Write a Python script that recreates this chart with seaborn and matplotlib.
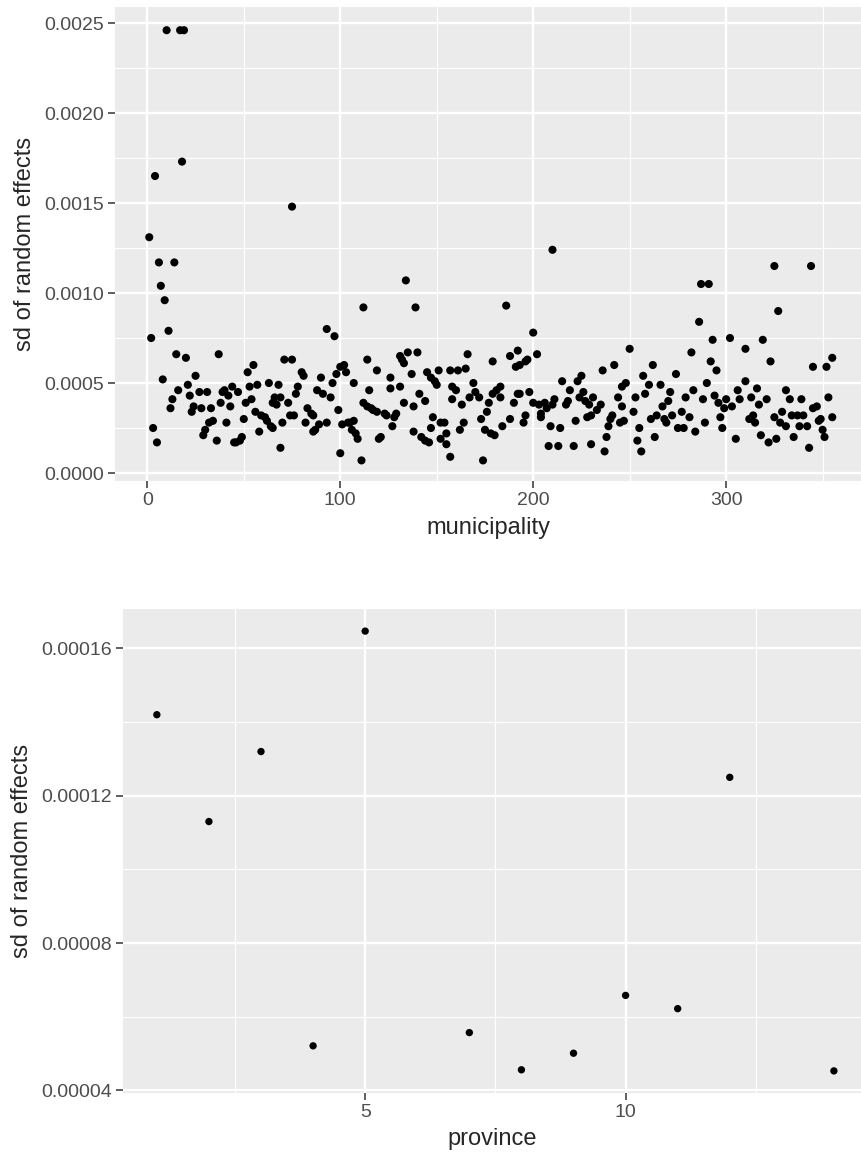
import matplotlib
matplotlib.use("Agg")
import matplotlib.pyplot as plt
import seaborn as sns
import pandas as pd
from matplotlib.ticker import FixedLocator

# ---------------- data ----------------
municipality = [
    1, 2, 3, 4, 5, 6, 7, 8, 9, 10, 11, 12, 13, 14, 15, 16, 17, 18, 19, 20,
    21, 22, 23, 24, 25, 27, 28, 29, 30, 31, 32, 33, 34, 36, 37, 38, 39, 40,
    41, 42, 43, 44, 45, 46, 47, 48, 49, 50, 51, 52, 53, 54, 55, 56, 57, 58,
    59, 61, 62, 63, 64, 65,
    65, 66, 67, 68, 69, 70, 69, 71, 73, 74, 75, 75, 76, 77, 78, 80, 81, 82,
    83, 85, 86, 86, 87, 88, 89, 90, 91, 93, 93, 95, 96, 97, 98, 99, 100, 100,
    101, 102, 103, 104, 105, 106, 107, 107, 108, 109, 111, 112, 112, 114, 114,
    115, 116, 117, 119, 119, 120, 121, 123, 124, 126, 126, 127, 128, 129, 131,
    131, 132, 133, 133, 134, 135, 137, 138, 138, 139, 140, 141, 142, 144, 144,
    145, 146, 147, 147, 148, 149, 150, 151, 152, 152, 154, 155, 155, 157, 157,
    158, 158, 160, 161, 162, 163, 164, 165, 166, 167,
    169, 170, 172, 173, 174, 175, 176, 177, 178, 179, 179, 180, 181, 183, 183,
    184, 186, 188, 188, 190, 191, 192, 192,
    193, 193, 195, 196, 196, 197, 198, 200, 200, 202, 203, 204, 204, 206, 207,
    208, 209, 210, 210, 211, 213, 214, 215, 217, 218, 219, 221, 222, 223, 224,
    225, 226, 227, 228, 229, 230, 230, 231, 233, 235, 236, 237, 238, 239, 240,
    241, 242, 244, 245, 246, 246, 247, 248, 250, 252, 253, 254, 255, 256, 257,
    258, 260, 261, 262, 263, 264, 266, 267, 268, 269, 270, 271, 272, 274, 275,
    277, 278, 279, 281, 282, 283, 284, 286, 287, 288, 289, 290, 291, 292, 293,
    294, 295, 296, 297, 298, 299, 300, 302, 303, 305, 306, 307, 310, 310, 312,
    313, 314, 315, 316, 317, 318, 319, 321, 322, 323, 325, 325, 326, 327, 328,
    329, 331, 331, 333, 334, 335, 337, 338, 339, 340, 342, 343, 344, 345, 345,
    347, 348, 349, 350, 351, 352, 353, 355, 355,
]
sd_municipality = [
    0.00131, 0.00075, 0.00025, 0.00165, 0.00017, 0.00117, 0.00104, 0.00052, 0.00096, 0.00246,
    0.00079, 0.00036, 0.00041, 0.00117, 0.00066, 0.00046, 0.00246, 0.00173, 0.00246, 0.00064,
    0.00049, 0.00043, 0.00034, 0.00037, 0.00054, 0.00045, 0.00036, 0.00021, 0.00024, 0.00045,
    0.00028, 0.00036, 0.00029, 0.00018, 0.00066, 0.00039, 0.00045, 0.00046,
    0.00028, 0.00043, 0.00037, 0.00048, 0.00017, 0.00017, 0.00045, 0.00018, 0.00020, 0.00030,
    0.00039, 0.00056, 0.00048, 0.00041, 0.00060, 0.00034, 0.00049, 0.00023,
    0.00032, 0.00031, 0.00029, 0.00050, 0.00026, 0.00039,
    0.00025, 0.00042, 0.00038, 0.00049, 0.00042, 0.00028, 0.00014, 0.00063, 0.00039, 0.00032,
    0.00063, 0.00148, 0.00032, 0.00044, 0.00048, 0.00056, 0.00054, 0.00028,
    0.00036, 0.00033, 0.00032, 0.00023, 0.00024, 0.00046, 0.00027, 0.00053, 0.00044, 0.00080,
    0.00028, 0.00042, 0.00050, 0.00076, 0.00055, 0.00035, 0.00059, 0.00011,
    0.00027, 0.00060, 0.00056, 0.00028, 0.00028, 0.00024, 0.00029, 0.00050, 0.00022, 0.00019,
    0.00007, 0.00092, 0.00039, 0.00037, 0.00063,
    0.00046, 0.00036, 0.00035, 0.00034, 0.00057, 0.00019, 0.00020, 0.00033, 0.00032, 0.00047,
    0.00053, 0.00026, 0.00031, 0.00033, 0.00065,
    0.00048, 0.00063, 0.00061, 0.00039, 0.00107, 0.00067, 0.00055, 0.00023, 0.00037, 0.00092,
    0.00067, 0.00044, 0.00020, 0.00040, 0.00018,
    0.00056, 0.00017, 0.00053, 0.00025, 0.00031, 0.00051, 0.00049, 0.00057, 0.00028, 0.00019,
    0.00028, 0.00016, 0.00022, 0.00009, 0.00057,
    0.00048, 0.00041, 0.00046, 0.00057, 0.00024, 0.00038, 0.00028, 0.00058, 0.00066, 0.00042,
    0.00050, 0.00045, 0.00042, 0.00030, 0.00007, 0.00024, 0.00034, 0.00039, 0.00022, 0.00044,
    0.00062, 0.00021, 0.00046, 0.00048, 0.00042,
    0.00026, 0.00093, 0.00030, 0.00065, 0.00039, 0.00059, 0.00068, 0.00044,
    0.00060, 0.00044, 0.00028, 0.00062, 0.00032, 0.00063, 0.00045, 0.00078, 0.00039, 0.00066,
    0.00038, 0.00033, 0.00031, 0.00039, 0.00036,
    0.00015, 0.00026, 0.00124, 0.00038, 0.00041, 0.00015, 0.00025, 0.00051, 0.00038, 0.00040,
    0.00046, 0.00015, 0.00029, 0.00051, 0.00042,
    0.00054, 0.00045, 0.00040, 0.00031, 0.00038, 0.00016, 0.00032, 0.00042, 0.00035, 0.00038,
    0.00057, 0.00012, 0.00020, 0.00026, 0.00030,
    0.00032, 0.00060, 0.00042, 0.00028, 0.00037, 0.00048, 0.00029, 0.00050, 0.00069, 0.00034,
    0.00042, 0.00018, 0.00025, 0.00012, 0.00054,
    0.00044, 0.00049, 0.00030, 0.00060, 0.00020, 0.00032, 0.00049, 0.00037, 0.00030, 0.00028,
    0.00040, 0.00045, 0.00032, 0.00055, 0.00025,
    0.00034, 0.00025, 0.00042, 0.00031, 0.00067, 0.00046, 0.00023, 0.00084, 0.00105, 0.00041,
    0.00028, 0.00050, 0.00105, 0.00062, 0.00074,
    0.00043, 0.00057, 0.00039, 0.00031, 0.00025, 0.00036, 0.00041, 0.00075, 0.00037, 0.00019,
    0.00046, 0.00041, 0.00051, 0.00069, 0.00030,
    0.00042, 0.00032, 0.00028, 0.00047, 0.00038, 0.00021, 0.00074, 0.00041, 0.00017, 0.00062,
    0.00115, 0.00031, 0.00019, 0.00090, 0.00028,
    0.00034, 0.00046, 0.00026, 0.00041, 0.00032, 0.00020, 0.00032, 0.00026, 0.00041, 0.00032,
    0.00026, 0.00014, 0.00115, 0.00036, 0.00059,
    0.00037, 0.00029, 0.00030, 0.00024, 0.00020, 0.00059, 0.00042, 0.00064, 0.00031,
]

province = [1, 2, 3, 4, 5, 7, 8, 9, 10, 11, 12, 14]
sd_province = [0.000142, 0.000113, 0.000132, 0.0000521, 0.0001647, 0.0000557,
               0.0000456, 0.0000501, 0.0000658, 0.0000622, 0.000125, 0.0000453]

top_xticks = [0, 100, 200, 300]
top_xminor = [50, 150, 250, 350]
top_yticks = [0.0, 0.0005, 0.0010, 0.0015, 0.0020, 0.0025]
top_yminor = [0.00025, 0.00075, 0.00125, 0.00175, 0.00225]
bot_xticks = [5, 10]
bot_xminor = [2.5, 7.5, 12.5]
bot_yticks = [0.00004, 0.00008, 0.00012, 0.00016]
bot_yminor = [0.00006, 0.00010, 0.00014]

df_m = pd.DataFrame({"municipality": municipality, "sd": sd_municipality})
df_p = pd.DataFrame({"province": province, "sd": sd_province})

# ---------------- style ----------------
sns.set_theme(style="darkgrid")
plt.rcParams.update({
    "axes.facecolor": "#EBEBEB",
    "figure.facecolor": "white",
    "grid.color": "white",
    "axes.edgecolor": "#EBEBEB",
    "xtick.color": "#333333",
    "ytick.color": "#333333",
    "xtick.labelcolor": "#4D4D4D",
    "ytick.labelcolor": "#4D4D4D",
})
plt.rcParams["font.family"] = ["Liberation Sans", "DejaVu Sans"]

W, H = 861, 1163
fig = plt.figure(figsize=(W / 100, H / 100), dpi=100)

def px_axes(left, top, right, bottom):
    return fig.add_axes([left / W, 1 - bottom / H, (right - left) / W, (bottom - top) / H])

ax1 = px_axes(115, 7, 861, 481)
ax2 = px_axes(123, 609, 861, 1093)

def style_axes(ax, xt, xm, yt, ym, fmt):
    ax.xaxis.set_major_locator(FixedLocator(xt))
    ax.xaxis.set_minor_locator(FixedLocator(xm))
    ax.yaxis.set_major_locator(FixedLocator(yt))
    ax.yaxis.set_minor_locator(FixedLocator(ym))
    ax.set_yticklabels([fmt.format(v) for v in yt])
    ax.set_xticklabels([str(v) for v in xt])
    ax.grid(which="major", color="white", linewidth=1.7)
    ax.grid(which="minor", color="white", linewidth=0.85)
    ax.tick_params(which="major", length=5, width=1.1, pad=3, labelsize=14,
                   bottom=True, left=True)
    ax.tick_params(which="minor", length=0)
    for s in ax.spines.values():
        s.set_visible(False)
    ax.set_axisbelow(True)

sns.scatterplot(data=df_m, x="municipality", y="sd", ax=ax1, color="black",
                s=34, edgecolor="none", linewidth=0)
ax1.set_xlim(-16.75, 369.9)
ax1.set_ylim(-0.0000444, 0.002589)
style_axes(ax1, top_xticks, top_xminor, top_yticks, top_yminor, "{:.4f}")
ax1.set_xlabel("municipality", fontsize=17, labelpad=6)
ax1.set_ylabel("sd of random effects", fontsize=17, labelpad=6)

sns.scatterplot(data=df_p, x="province", y="sd", ax=ax2, color="black",
                s=28, edgecolor="none", linewidth=0)
ax2.set_xlim(0.35, 14.52)
ax2.set_ylim(0.0000393, 0.0001707)
style_axes(ax2, bot_xticks, bot_xminor, bot_yticks, bot_yminor, "{:.5f}")
ax2.set_xlabel("province", fontsize=17, labelpad=5)
ax2.set_ylabel("sd of random effects", fontsize=17, labelpad=6)

fig.savefig("out.png", dpi=100)
